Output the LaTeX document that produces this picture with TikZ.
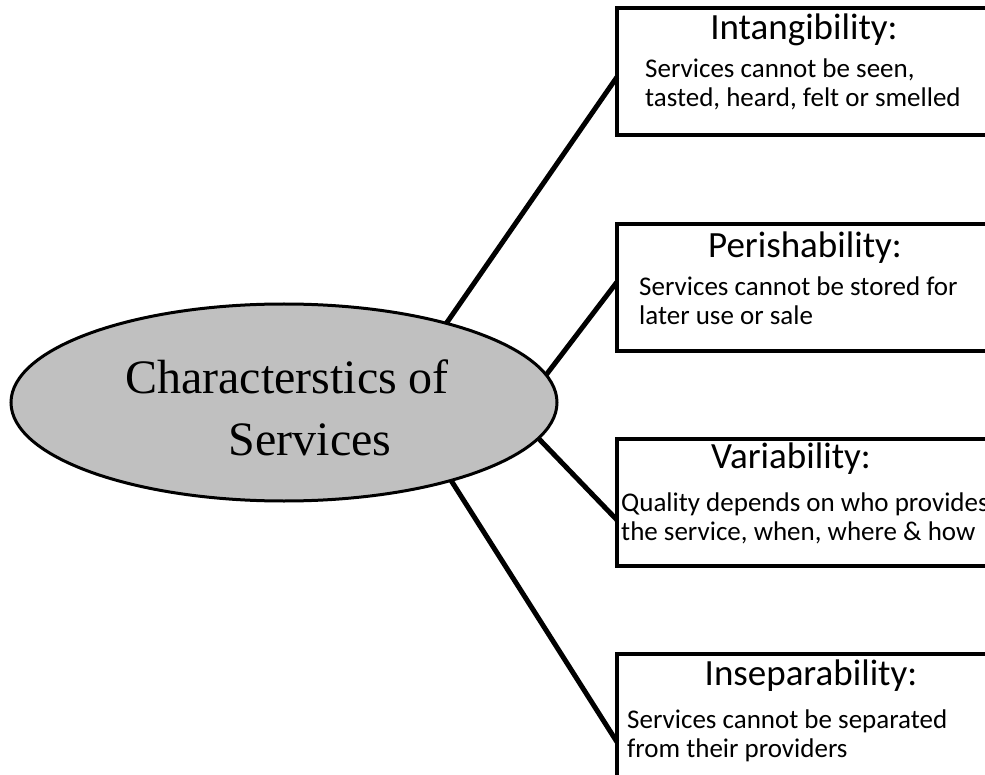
\documentclass[tikz,border=0pt]{standalone}
\usepackage{fontspec}
\newfontfamily\labelfont{Carlito}
\newfontfamily\hubfont{Liberation Serif}
\usetikzlibrary{shapes.geometric,calc}
\definecolor{hubgray}{RGB}{192,192,192}
\begin{document}
\begin{tikzpicture}[x=1pt,y=-1pt,
  hub/.style={ellipse, draw, line width=3pt, fill=hubgray, inner sep=0pt, outer sep=0pt,
              minimum width=546pt, minimum height=197pt},
  hubtext/.style={anchor=base, inner sep=0pt, font=\hubfont\fontsize{48}{56}\selectfont},
  card/.style={draw, line width=4pt, anchor=north west, inner sep=0pt, outer sep=0pt,
               minimum width=376pt, minimum height=127pt},
  cardtitle/.style={anchor=base, inner sep=0pt, font=\labelfont\fontsize{37}{44}\selectfont},
  % anchored on the baseline of the last line
  cardbody/.style={anchor=base west, inner sep=0pt, align=left, font=\labelfont\fontsize{27}{29}\selectfont},
  link/.style={line width=5pt}
]
\useasboundingbox (0,0) rectangle (985,775);
\clip (0,0) rectangle (985,775);

% central ellipse
\node[hub] (hub) at (284,402.5) {};
\node[hubtext] (hubline1) at (287,393) {Characterstics of};
\node[hubtext] (hubline2) at (310,455) {Services};

% the four characteristic cards
\node[card] (card1) at (617,8) {};
\node[card] (card2) at (617,224) {};
\node[card] (card3) at (617,439) {};
\node[card] (card4) at (617,654) {};

\node[cardtitle] (title1) at (804,40) {Intangibility:};
\node[cardbody] (body1) at (645,107) {Services cannot be seen,\\tasted, heard, felt or smelled};

\node[cardtitle] (title2) at (805,258) {Perishability:};
\node[cardbody] (body2) at (639,325) {Services cannot be stored for\\later use or sale};

\node[cardtitle] (title3) at (791,468) {Variability:};
\node[cardbody] (body3) at (621,540) {Quality depends on who provides\\the service, when, where \& how};

\node[cardtitle] (title4) at (811,685) {Inseparability:};
\node[cardbody] (body4) at (627,757) {Services cannot be separated\\from their providers};

% attachment points on the card edges
\coordinate (in1) at ([yshift=-69pt]card1.north west);
\coordinate (in2) at ([yshift=-58pt]card2.north west);
\coordinate (in3) at ([yshift=-81pt]card3.north west);
\coordinate (in4) at ([yshift=-88pt]card4.north west);

% connectors
\draw[link] (hub.26) -- (in1);
\draw[link] (hub.6.7) -- (in2);
\draw[link] (hub.-8.4) -- (in3);
\draw[link] (hub.-25.6) -- (in4);
\end{tikzpicture}
\end{document}
